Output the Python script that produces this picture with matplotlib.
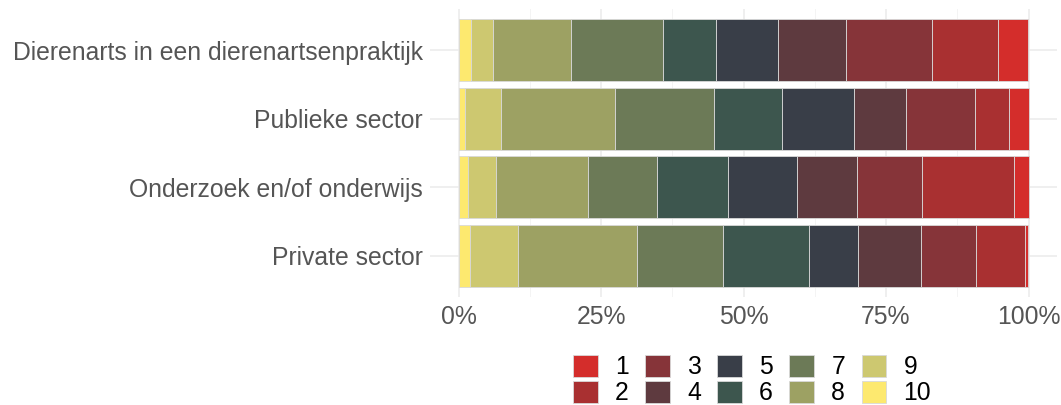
import matplotlib
matplotlib.use("Agg")
import matplotlib.pyplot as plt
from matplotlib.patches import Patch
from matplotlib.ticker import FuncFormatter
import numpy as np

plt.rcParams['font.family'] = ['Liberation Sans', 'DejaVu Sans']

categories = ["Dierenarts in een dierenartsenpraktijk", "Publieke sector",
              "Onderzoek en/of onderwijs", "Private sector"]
levels = ["1", "2", "3", "4", "5", "6", "7", "8", "9", "10"]
# shares (%) per level 1..10 for each category
share_dierenarts = [5.4, 11.6, 15.1, 11.8, 11.0, 9.2, 16.1, 13.7, 3.9, 2.2]
share_publiek = [3.4, 5.9, 12.2, 9.2, 12.6, 11.95, 17.35, 20.0, 6.3, 1.1]
share_onderzoek = [2.5, 16.2, 11.4, 10.6, 12.1, 12.3, 12.2, 16.15, 4.9, 1.65]
share_privaat = [0.7, 8.5, 9.7, 11.1, 8.55, 15.05, 15.0, 21.0, 8.4, 2.0]
colors = ["#D42D2B", "#A93031", "#863439", "#5E3A3F", "#393E48",
          "#3D564E", "#6C7A57", "#9DA163", "#CDC870", "#FDE96F"]

data = np.array([share_dierenarts, share_publiek, share_onderzoek, share_privaat], dtype=float)
data = data / data.sum(axis=1, keepdims=True)

fig = plt.figure(figsize=(10.61, 4.05), dpi=100)
ax = fig.add_axes([430/1061, 1-297/405, (1057-430)/1061, (297-9)/405])

ypos = np.arange(len(categories))[::-1]
left = np.zeros(len(categories))
# stack from level 10 (left) to level 1 (right)
for i in range(len(levels)-1, -1, -1):
    ax.barh(ypos, data[:, i], left=left, height=0.9, color=colors[i],
            edgecolor="#D9D9D9", linewidth=0.6, zorder=3)
    left += data[:, i]

ax.set_xlim(-0.05, 1.05)
ax.set_ylim(-0.6, len(categories)-1+0.6)
ax.set_yticks(ypos)
ax.set_yticklabels(categories)
ax.set_xticks([0, 0.25, 0.5, 0.75, 1.0])
ax.set_xticks([0.125, 0.375, 0.625, 0.875], minor=True)
ax.xaxis.set_major_formatter(FuncFormatter(lambda v, p: f"{int(round(v*100))}%"))
ax.tick_params(axis='both', which='both', length=0, labelsize=17.8, labelcolor="#555555")
ax.tick_params(axis='x', pad=6)
ax.tick_params(axis='y', pad=5)
ax.grid(True, which='major', color="#EBEBEB", linewidth=1.1, zorder=0)
ax.grid(True, which='minor', axis='x', color="#F2F2F2", linewidth=0.6, zorder=0)
for s in ax.spines.values():
    s.set_visible(False)

handles = [Patch(facecolor=colors[i], edgecolor="#D9D9D9", linewidth=0.6, label=levels[i])
           for i in range(len(levels))]
fig.legend(handles=handles, ncol=5, loc='center', bbox_to_anchor=(752/1061, 1-380/405),
           frameon=False, fontsize=17.8, handlelength=1.0, handleheight=1.0,
           handletextpad=0.7, columnspacing=0.66, labelspacing=0.05, borderpad=0)

fig.savefig("out.png", dpi=100)
